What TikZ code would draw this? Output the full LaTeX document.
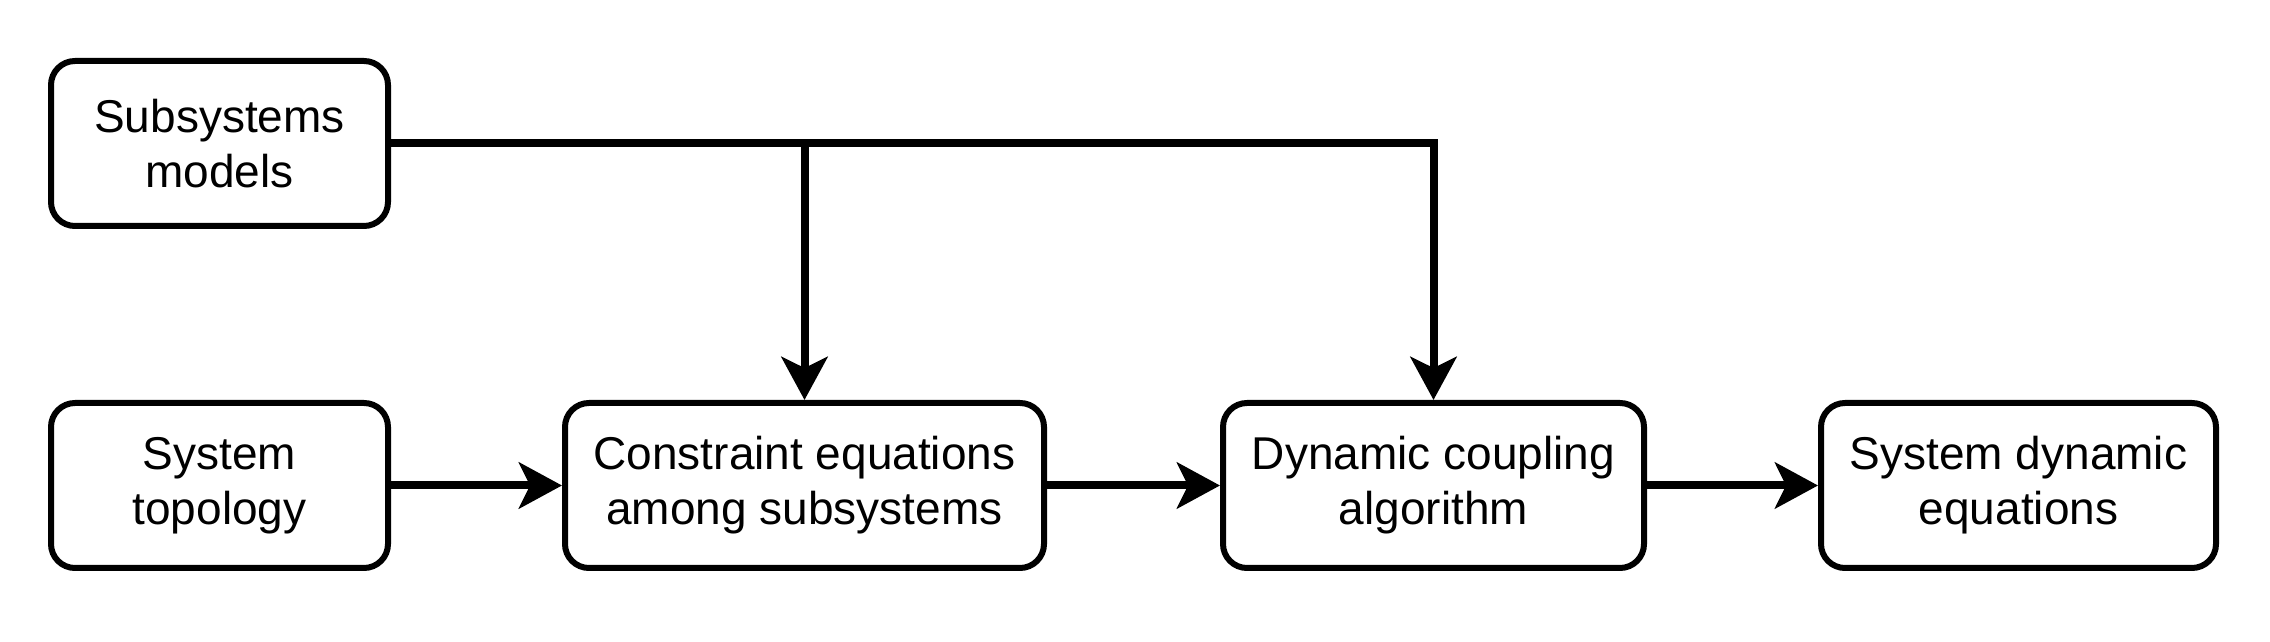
\documentclass[tikz,border=0pt]{standalone}
\usepackage{fontspec}
\setmainfont{Liberation Sans}
\usetikzlibrary{arrows.meta}
\begin{document}
\begin{tikzpicture}[x=1pt,y=1pt,
  box/.style={draw=black, line width=6pt, rounded corners=24pt, fill=white,
    minimum height=165pt, align=center, inner sep=0pt,
    font=\fontsize{46}{55}\selectfont},
  conn/.style={line width=8pt, -{Stealth[length=43pt,width=46pt,inset=11pt]}},
  plain/.style={line width=8pt}
]
\useasboundingbox (0,0) rectangle (2270,642);
\node[box, minimum width=337pt] (sub) at (219.5,498.5) {Subsystems\\models};
\node[box, minimum width=337pt] (topo) at (219.5,156.5) {System\\topology};
\node[box, minimum width=479pt] (cons) at (804.5,156.5) {Constraint equations\\among subsystems};
\node[box, minimum width=421pt] (dyn) at (1433.5,156.5) {Dynamic coupling\\algorithm};
\node[box, minimum width=395pt] (sde) at (2018.5,156.5) {System dynamic\\equations};
\coordinate (br) at (cons.north |- sub.east);
\draw[plain] (sub.east) -- (br);
\draw[conn] (sub.east) -| (dyn.north);
\draw[conn] (br) -- (cons.north);
\draw[conn] (topo) -- (cons);
\draw[conn] (cons) -- (dyn);
\draw[conn] (dyn) -- (sde);
\end{tikzpicture}
\end{document}
